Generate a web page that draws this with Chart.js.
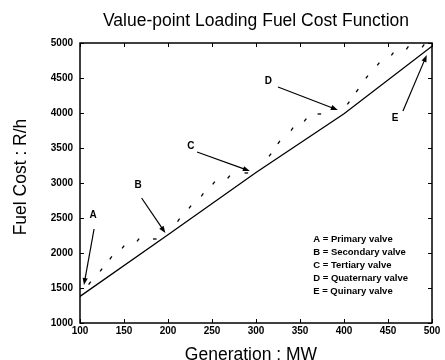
<!DOCTYPE html>
<html>
<head>
<meta charset="utf-8">
<script src="https://cdn.jsdelivr.net/npm/chart.js@4/dist/chart.umd.min.js"></script>
<style>
html,body{margin:0;padding:0;background:#fff;}
#wrap{width:445px;height:360px;position:relative;}
</style>
</head>
<body>
<div id="wrap"><canvas id="c" width="445" height="360"></canvas></div>
<script>
// ---- data ----
const titleText = 'Value-point Loading Fuel Cost Function';
const xTitle = 'Generation : MW';
const yTitle = 'Fuel Cost : R/h';

// smooth (quadratic) cost curve
const genSmooth = [100, 200, 300, 400, 500];
const costSmooth = [1380, 2260, 3150, 3990, 4955];

// valve-point loading curve (dotted)
const genValve = [111, 124, 135, 149, 166, 185, 212, 225, 239, 252, 269, 289, 316, 326, 341, 356, 372, 405, 415, 426, 439, 455, 472, 490];
const costValve = [1571, 1757, 1929, 2086, 2186, 2200, 2471, 2657, 2829, 3000, 3086, 3143, 3400, 3580, 3771, 3900, 3986, 4143, 4320, 4514, 4700, 4843, 4929, 4960];

// annotation arrows (data units)
const arrowLabels = ['A', 'B', 'C', 'D', 'E'];
const labelGen = [115, 166, 226, 314, 458];
const labelCost = [2543, 2971, 3529, 4457, 3929];
const arrowFromGen = [116, 170, 233, 325, 467];
const arrowFromCost = [2343, 2786, 3443, 4371, 4029];
const arrowToGen = [104.5, 197, 293, 393, 494];
const arrowToCost = [1543, 2286, 3171, 4043, 4829];

// key text
const keyLines = ['A = Primary valve', 'B = Secondary valve', 'C = Tertiary valve', 'D = Quaternary valve', 'E = Quinary valve'];
const keyGen = 365;
const keyCost = 2200;

const xTicks = [100, 150, 200, 250, 300, 350, 400, 450, 500];
const yTicks = [1000, 1500, 2000, 2500, 3000, 3500, 4000, 4500, 5000];

const FONT = '"Liberation Sans", Arial, Helvetica, sans-serif';

function rotFor(i) {
  // horizontal dashes at the end of each valve segment, slanted dots elsewhere
  return (i === 5 || i === 11 || i === 16) ? 0 : -55;
}

const decor = {
  id: 'decor',
  afterDatasetsDraw(chart) {
    const ctx = chart.ctx;
    const xs = chart.scales.x, ys = chart.scales.y;
    const a = chart.chartArea;
    ctx.save();
    // frame
    ctx.strokeStyle = '#000';
    ctx.lineWidth = 1.5;
    ctx.strokeRect(a.left, a.top, a.right - a.left, a.bottom - a.top);
    // inward ticks
    ctx.lineWidth = 1;
    ctx.beginPath();
    xTicks.forEach(v => {
      const px = Math.round(xs.getPixelForValue(v)) + 0.5;
      ctx.moveTo(px, a.bottom); ctx.lineTo(px, a.bottom - 4);
      ctx.moveTo(px, a.top); ctx.lineTo(px, a.top + 4);
    });
    yTicks.forEach(v => {
      const py = Math.round(ys.getPixelForValue(v)) + 0.5;
      ctx.moveTo(a.left, py); ctx.lineTo(a.left + 4, py);
      ctx.moveTo(a.right, py); ctx.lineTo(a.right - 4, py);
    });
    ctx.stroke();

    // arrows
    ctx.fillStyle = '#000';
    ctx.font = 'bold 10px ' + FONT;
    ctx.textAlign = 'center';
    ctx.textBaseline = 'middle';
    arrowLabels.forEach((lab, i) => {
      ctx.fillText(lab, xs.getPixelForValue(labelGen[i]), ys.getPixelForValue(labelCost[i]));
      const x1 = xs.getPixelForValue(arrowFromGen[i]), y1 = ys.getPixelForValue(arrowFromCost[i]);
      const x2 = xs.getPixelForValue(arrowToGen[i]), y2 = ys.getPixelForValue(arrowToCost[i]);
      const ang = Math.atan2(y2 - y1, x2 - x1);
      const hl = 7, hw = 2.6;
      ctx.lineWidth = 1.2;
      ctx.beginPath();
      ctx.moveTo(x1, y1);
      ctx.lineTo(x2 - Math.cos(ang) * hl * 0.8, y2 - Math.sin(ang) * hl * 0.8);
      ctx.stroke();
      ctx.beginPath();
      ctx.moveTo(x2, y2);
      ctx.lineTo(x2 - Math.cos(ang) * hl - Math.sin(ang) * hw, y2 - Math.sin(ang) * hl + Math.cos(ang) * hw);
      ctx.lineTo(x2 - Math.cos(ang) * hl + Math.sin(ang) * hw, y2 - Math.sin(ang) * hl - Math.cos(ang) * hw);
      ctx.closePath();
      ctx.fill();
    });

    // key
    ctx.font = 'bold 9.5px ' + FONT;
    ctx.textAlign = 'left';
    const kx = xs.getPixelForValue(keyGen), ky = ys.getPixelForValue(keyCost);
    keyLines.forEach((t, i) => ctx.fillText(t, kx, ky + i * 13));

    // titles
    ctx.textBaseline = 'alphabetic';
    ctx.textAlign = 'center';
    ctx.font = '17.5px ' + FONT;
    ctx.fillText(titleText, 256, 26);
    ctx.fillText(xTitle, 251, 359.5);
    ctx.save();
    ctx.translate(26, 177);
    ctx.rotate(-Math.PI / 2);
    ctx.fillText(yTitle, 0, 0);
    ctx.restore();
    ctx.restore();
  }
};

new Chart(document.getElementById('c'), {
  type: 'scatter',
  data: {
    datasets: [
      {
        data: genSmooth.map((g, i) => ({x: g, y: costSmooth[i]})),
        showLine: true,
        borderColor: '#000',
        borderWidth: 1.3,
        pointRadius: 0,
        tension: 0
      },
      {
        data: genValve.map((g, i) => ({x: g, y: costValve[i]})),
        showLine: false,
        pointStyle: 'line',
        pointRadius: 1.8,
        pointRotation: genValve.map((g, i) => rotFor(i)),
        borderColor: '#000',
        pointBorderColor: '#000',
        pointBorderWidth: 1.3
      }
    ]
  },
  options: {
    responsive: false,
    animation: false,
    layout: {padding: {left: 0, right: 13, top: 43, bottom: 0}},
    plugins: {legend: {display: false}, tooltip: {enabled: false}, title: {display: false}},
    scales: {
      x: {
        type: 'linear', min: 100, max: 500,
        afterBuildTicks: s => { s.ticks = xTicks.map(v => ({value: v})); },
        afterFit: s => { s.height = 37; },
        grid: {display: false, tickLength: 0, drawTicks: false},
        border: {display: false},
        ticks: {color: '#000', font: {family: FONT, size: 10, weight: 'bold'}, padding: 2, maxRotation: 0,
                callback: v => String(v)}
      },
      y: {
        type: 'linear', min: 1000, max: 5000,
        afterBuildTicks: s => { s.ticks = yTicks.map(v => ({value: v})); },
        afterFit: s => { s.width = 80; },
        grid: {display: false, tickLength: 0, drawTicks: false},
        border: {display: false},
        ticks: {color: '#000', font: {family: FONT, size: 10, weight: 'bold'}, padding: 7,
                callback: v => String(v)}
      }
    }
  },
  plugins: [decor]
});
</script>
</body>
</html>
